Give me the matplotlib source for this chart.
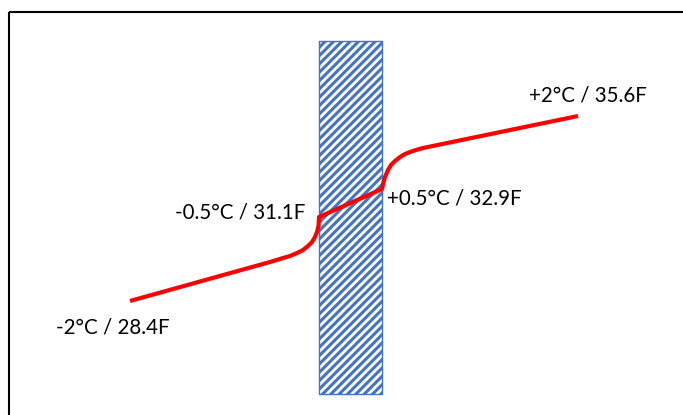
import matplotlib.pyplot as plt
from matplotlib.patches import Rectangle

# red curve (pixel coords, y down)
curve_x = [130, 270, 283, 290, 297, 303, 308, 312, 315, 317, 318.5, 319,
           382, 383, 385, 388, 391, 395, 400, 405, 410, 416, 423, 578]
curve_y = [301, 262, 258, 256, 253, 250, 246, 242, 237, 232, 226, 217,
           189, 184, 177, 170, 165, 161, 157, 154, 152, 150, 148, 116]

# hatched block
block_x = [319, 382]
block_y = [41, 394]

labels = ["-2°C / 28.4F", "-0.5°C / 31.1F", "+0.5°C / 32.9F", "+2°C / 35.6F"]
label_x = [56, 305, 387, 529]
label_y = [327, 212, 198, 95]
label_ha = ["left", "right", "left", "left"]

plt.rcParams['hatch.linewidth'] = 2.2
plt.rcParams['hatch.color'] = '#4472C4'

fig = plt.figure(figsize=(6.83, 4.15), dpi=100)
ax = fig.add_axes([0, 0, 1, 1])
ax.set_xlim(0, 683)
ax.set_ylim(415, 0)
ax.axis('off')

# frame (only top and left visible)
ax.plot([9, 683], [12, 12], color='black', linewidth=1.5, solid_capstyle='butt')
ax.plot([9, 9], [12, 415], color='black', linewidth=1.5, solid_capstyle='butt')

ax.add_patch(Rectangle((block_x[0], block_y[0]), block_x[1] - block_x[0], block_y[1] - block_y[0],
                       facecolor='white', edgecolor='#4472C4', hatch='////', linewidth=1))

ax.plot(curve_x, curve_y, color='#FF0000', linewidth=3, solid_joinstyle='round', solid_capstyle='butt')

for t, x, y, ha in zip(labels, label_x, label_y, label_ha):
    ax.text(x, y, t, ha=ha, va='center', fontsize=14.8, family='Lato', color='black')

fig.savefig('out.png', dpi=100)
